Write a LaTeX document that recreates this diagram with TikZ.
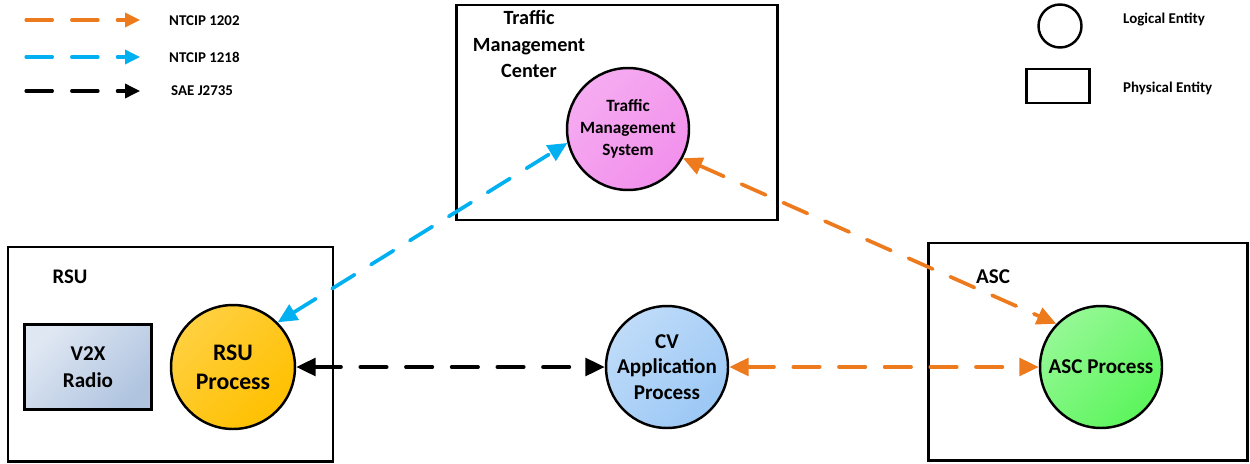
\documentclass[tikz,border=0pt]{standalone}
\usepackage{fontspec}
\setmainfont{Carlito}
\usepackage{tikz}
\usetikzlibrary{arrows.meta}

\definecolor{ntcipA}{HTML}{EE7A1E}
\definecolor{ntcipB}{HTML}{00B0F0}
\definecolor{tmsPink}{HTML}{F290EC}
\definecolor{rsuGold}{HTML}{FFC000}
\definecolor{cvBlue}{HTML}{9CC8F5}
\definecolor{ascGreen}{HTML}{5CF55C}
\definecolor{radioBlue}{HTML}{B0C4E0}

\begin{document}
\begin{tikzpicture}[x=0.02cm, y=-0.02cm,
  physical/.style={draw, line width=1.7pt},
  logical/.style={draw, circle, line width=1.4pt, minimum size=2.44cm, inner sep=0pt, align=center, font=\bfseries\fontsize{12}{14.5}\selectfont},
  flow/.style={line width=2.1pt, line cap=round, dash pattern=on 15pt off 11pt},
  bigtip/.style={{Triangle[length=11pt,width=10pt]}-{Triangle[length=11pt,width=10pt]}},
  smalltip/.style={-{Triangle[length=8.5pt,width=8pt]}},
  legendtxt/.style={anchor=west, font=\bfseries\fontsize{8.5}{10}\selectfont}]
\useasboundingbox (0,0) rectangle (1250,463);

% Legend: interfaces
\coordinate (la1) at (26,20);  \coordinate (la2) at (140,20);
\coordinate (lb1) at (26,57);  \coordinate (lb2) at (140,57);
\coordinate (lc1) at (26,91);  \coordinate (lc2) at (140,91);
\draw[flow, line width=1.8pt, smalltip, ntcipA] (la1) -- (la2);
\draw[flow, line width=1.8pt, smalltip, ntcipB] (lb1) -- (lb2);
\draw[flow, line width=1.8pt, smalltip, black] (lc1) -- (lc2);
\node[legendtxt] (leg1202) at (163,21) {NTCIP 1202};
\node[legendtxt] (leg1218) at (163,57) {NTCIP 1218};
\node[legendtxt] (legsae) at (165,91) {SAE J2735};

% Legend: entities
\node[draw, circle, line width=1.4pt, minimum size=0.86cm] (legcirc) at (1060,26) {};
\node[draw, line width=1.5pt, minimum width=1.26cm, minimum height=0.68cm] (legrect) at (1058,86) {};
\node[legendtxt] (leglog) at (1117,20) {Logical Entity};
\node[legendtxt] (legphy) at (1117,88) {Physical Entity};

% Traffic Management Center
\draw[physical] (456,5) rectangle (777,220);
\node[align=center, font=\bfseries\fontsize{11.5}{15.3}\selectfont] (tmc) at (529,44) {Traffic\\Management\\Center};
\node[logical, minimum size=2.44cm, left color=tmsPink!75!white, right color=tmsPink, shading angle=45,
      font=\bfseries\fontsize{9.8}{12.5}\selectfont] (tms) at (628,129) {Traffic\\Management\\System};

% RSU
\draw[physical] (8,247) rectangle (333,461);
\node[font=\bfseries\fontsize{11.8}{14}\selectfont] (rsu) at (70,277) {RSU};
\node[draw, line width=1.5pt, minimum width=2.54cm, minimum height=1.7cm, align=center,
      left color=radioBlue!40!white, right color=radioBlue, shading angle=45,
      font=\bfseries\fontsize{12}{15}\selectfont] (radio) at (88,367) {V2X\\Radio};
\node[logical, minimum size=2.48cm, left color=rsuGold!75!white, right color=rsuGold, shading angle=45,
      font=\bfseries\fontsize{13.5}{16.5}\selectfont] (rsup) at (233,367) {RSU\\Process};

% CV application
\node[logical, left color=cvBlue!65!white, right color=cvBlue, shading angle=45] (cv) at (667,367) {CV\\Application\\Process};

% ASC
\draw[physical] (928,243) rectangle (1247,460);
\node[font=\bfseries\fontsize{12}{14}\selectfont] (asc) at (993,277) {ASC};
\node[logical, left color=ascGreen!65!white, right color=ascGreen, shading angle=45] (ascp) at (1101,367) {ASC Process};

% Interfaces
\draw[flow, bigtip, ntcipB] (rsup.45) -- (tms.-167);
\draw[flow, bigtip, ntcipA] (tms.-28) -- (ascp.136);
\draw[flow, bigtip, black] (rsup) -- (cv);
\draw[flow, bigtip, ntcipA] (cv) -- (ascp);
\end{tikzpicture}
\end{document}
